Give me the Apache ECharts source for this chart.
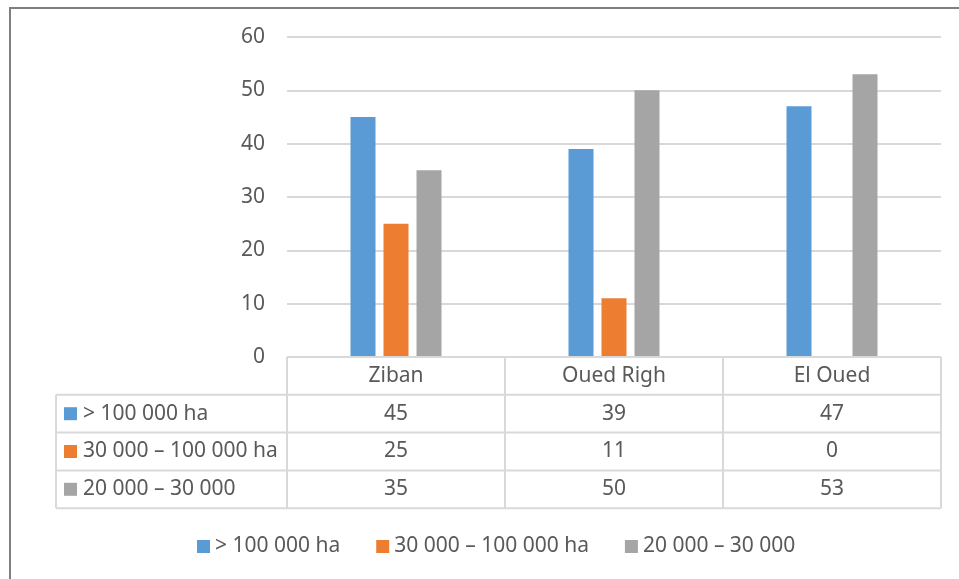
<!DOCTYPE html>
<html><head><meta charset="utf-8">
<script src="https://cdn.jsdelivr.net/npm/echarts@6/dist/echarts.min.js"></script>
<style>html,body{margin:0;padding:0;background:#fff}#c{width:959px;height:579px}</style>
</head><body><div id="c"></div>
<script>
const categories = ['Ziban', 'Oued Righ', 'El Oued'];
const seriesNames = ['> 100 000 ha', '30 000 – 100 000 ha', '20 000 – 30 000'];
const valuesLarge = [45, 39, 47];
const valuesMedium = [25, 11, 0];
const valuesSmall = [35, 50, 53];
const yMin = 0, yMax = 60, yStep = 10;

const colors = ['#5B9BD5', '#ED7D31', '#A5A5A5'];
const seriesValues = [valuesLarge, valuesMedium, valuesSmall];
const FONT = '"Noto Sans", "Open Sans", sans-serif';
const FS = 21;
const TXT = '#595959';
const LINE = '#d9d9d9';

const chart = echarts.init(document.getElementById('c'), null, {renderer: 'canvas'});
chart.setOption({
  animation: false,
  backgroundColor: '#fff',
  textStyle: {fontFamily: FONT},
  grid: {left: 287, right: 18, top: 37, bottom: 222, containLabel: false},
  legend: {
    left: 192, top: 531,
    icon: 'rect', itemWidth: 13, itemHeight: 13, itemGap: 36,
    textStyle: {fontSize: FS, color: TXT, fontFamily: FONT},
    data: seriesNames
  },
  xAxis: {
    type: 'category', data: categories,
    axisLine: {show: false}, axisTick: {show: false}, axisLabel: {show: false},
    splitLine: {show: false}
  },
  yAxis: {
    type: 'value', min: yMin, max: yMax, interval: yStep,
    axisLine: {show: false}, axisTick: {show: false},
    axisLabel: {color: TXT, fontSize: FS, margin: 22, fontFamily: FONT},
    splitLine: {lineStyle: {color: LINE, width: 2}}
  },
  series: seriesNames.map((n, i) => ({
    name: n, type: 'bar', data: seriesValues[i],
    barWidth: 25, barGap: '32%',
    itemStyle: {color: colors[i]}
  }))
});

// Data table drawn below the plot, positioned from the axis scales
const centers = categories.map(c => chart.convertToPixel({xAxisIndex: 0}, c));
const colW = centers.length > 1 ? centers[1] - centers[0] : 218;
const yTop = chart.convertToPixel({yAxisIndex: 0}, 0);
const rowH = 37.8;
const tableLeft = 56;
const xLeft = centers[0] - colW / 2;
const xRight = centers[centers.length - 1] + colW / 2;
const g = [];
const line = (x1, y1, x2, y2) => g.push({type: 'line', silent: true, z: 5,
  shape: {x1, y1, x2, y2}, style: {stroke: LINE, lineWidth: 2}});
const text = (t, x, y, align) => g.push({type: 'text', silent: true, z: 6,
  style: {text: t, x, y, fill: TXT, font: FS + 'px ' + FONT, align: align, verticalAlign: 'middle'}});

// header row
line(xLeft, yTop, xRight, yTop);
for (let i = 0; i <= categories.length; i++) {
  const x = xLeft + i * colW;
  line(x, yTop, x, yTop + rowH * (seriesNames.length + 1));
}
categories.forEach((c, i) => text(c, centers[i], yTop + rowH / 2, 'center'));
// data rows
for (let r = 0; r <= seriesNames.length; r++) {
  line(tableLeft, yTop + rowH * (r + 1), xRight, yTop + rowH * (r + 1));
}
line(tableLeft, yTop + rowH, tableLeft, yTop + rowH * (seriesNames.length + 1));
seriesNames.forEach((n, r) => {
  const yc = yTop + rowH * (r + 1.5);
  g.push({type: 'rect', silent: true, z: 6, shape: {x: 64, y: yc - 6.5, width: 13, height: 13},
    style: {fill: colors[r]}});
  text(n, 83, yc, 'left');
  seriesValues[r].forEach((v, i) => text(String(v), centers[i], yc, 'center'));
});
// outer chart border (extends beyond the visible area on right/bottom)
g.push({type: 'rect', silent: true, z: 1, shape: {x: 10, y: 8, width: 1000, height: 1000},
  style: {fill: null, stroke: '#7f7f7f', lineWidth: 2}});
chart.setOption({graphic: g});
</script>
</body></html>
